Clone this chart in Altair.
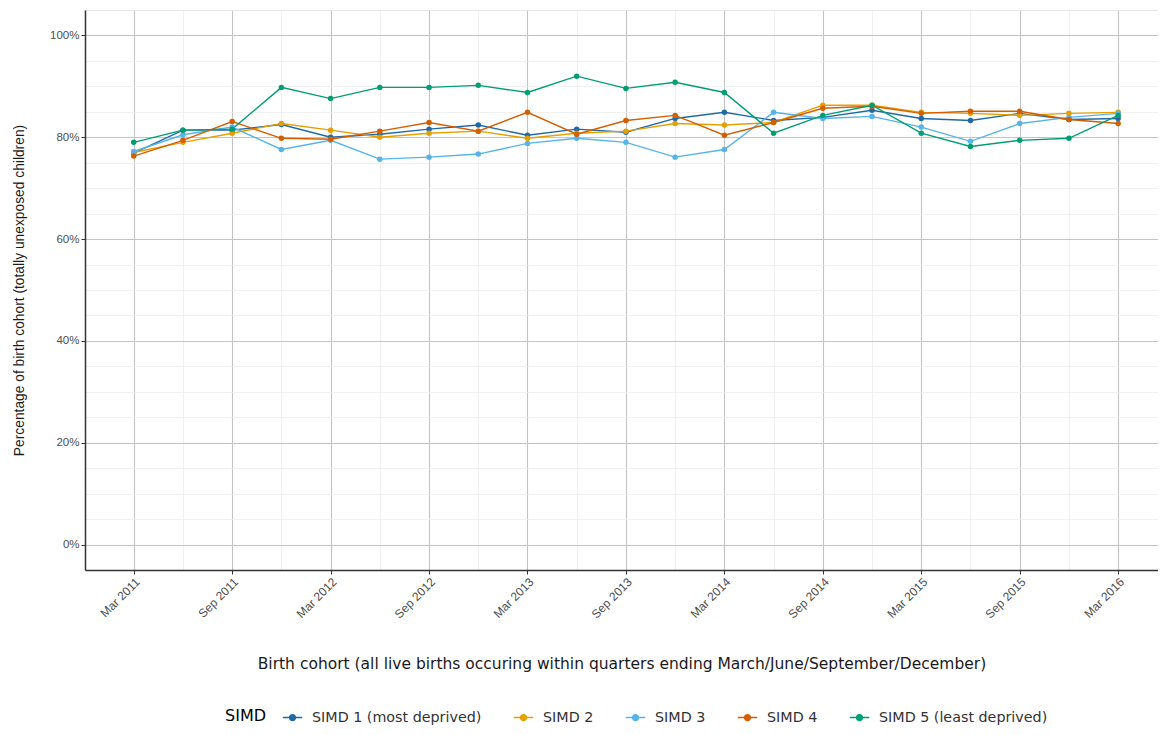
import altair as alt
import pandas as pd

# x index 0..20 = quarters Mar 2011 .. Mar 2016
quarters = list(range(21))
tick_labels = ["Mar 2011", "Sep 2011", "Mar 2012", "Sep 2012", "Mar 2013", "Sep 2013",
               "Mar 2014", "Sep 2014", "Mar 2015", "Sep 2015", "Mar 2016"]
series_names = ["SIMD 1 (most deprived)", "SIMD 2", "SIMD 3", "SIMD 4", "SIMD 5 (least deprived)"]
colors = ["#1F6AA5", "#E69F00", "#56B4E9", "#D55E00", "#009E73"]

s1 = [76.9, 81.4, 81.4, 82.5, 80.0, 80.6, 81.6, 82.4, 80.4, 81.6, 81.0, 83.7, 84.9, 83.3, 83.9, 85.3, 83.7, 83.3, 84.7, 83.5, 83.7]
s2 = [77.0, 79.0, 80.8, 82.7, 81.4, 80.0, 80.8, 81.2, 79.8, 80.8, 81.2, 82.7, 82.4, 82.9, 86.3, 86.3, 84.9, 84.7, 84.3, 84.7, 84.9]
s3 = [77.2, 80.5, 82.0, 77.6, 79.4, 75.7, 76.1, 76.7, 78.8, 79.8, 79.0, 76.1, 77.6, 84.9, 83.7, 84.1, 82.0, 79.2, 82.7, 83.9, 84.7]
s4 = [76.3, 79.4, 83.1, 79.8, 79.6, 81.2, 82.9, 81.2, 84.9, 80.6, 83.3, 84.3, 80.4, 82.9, 85.7, 86.1, 84.7, 85.1, 85.1, 83.5, 82.7]
s5 = [79.0, 81.4, 81.6, 89.8, 87.6, 89.8, 89.8, 90.2, 88.8, 92.0, 89.6, 90.8, 88.8, 80.8, 84.3, 86.3, 80.8, 78.2, 79.4, 79.8, 84.3]

rows = []
for name, vals in zip(series_names, [s1, s2, s3, s4, s5]):
    for q, v in zip(quarters, vals):
        rows.append({"q": q, "pct": v / 100.0, "SIMD": name})
df = pd.DataFrame(rows)

label_arr = "[" + ",".join("'%s'" % t for t in tick_labels) + "]"
major_x = list(range(0, 21, 2))
minor_x = list(range(-1, 22))
major_y = [0, 0.2, 0.4, 0.6, 0.8, 1.0]
minor_y = [round(-0.05 + 0.05 * i, 2) for i in range(23)]

xscale = alt.Scale(domain=[-0.99, 20.81], nice=False, zero=False)
yscale = alt.Scale(domain=[-0.05, 1.05], nice=False, zero=False)

color = alt.Color("SIMD:N", scale=alt.Scale(domain=series_names, range=colors),
                  legend=alt.Legend(title="SIMD", orient="none", direction="horizontal",
                                    legendX=140, legendY=697, titleOrient="left",
                                    titleFont="DejaVu Sans", labelFont="DejaVu Sans",
                                    titleFontSize=16, titleFontWeight="normal", titleColor="#000000",
                                    labelFontSize=14.3, labelColor="#333333", labelLimit=400,
                                    symbolType="M-1,0L1,0M-0.3,0A0.3,0.3,0,1,1,0.3,0A0.3,0.3,0,1,1,-0.3,0",
                                    symbolSize=380, symbolStrokeWidth=1.5,
                                    columnPadding=28, labelOffset=9, titlePadding=16))

minor = alt.Chart(df).mark_point(opacity=0).encode(
    x=alt.X("q:Q", scale=xscale,
            axis=alt.Axis(orient="bottom", values=minor_x, grid=True, gridColor="#ebebeb",
                          gridWidth=0.7, labels=False, ticks=False, domain=False, title=None)),
    y=alt.Y("pct:Q", scale=yscale,
            axis=alt.Axis(orient="left", values=minor_y, grid=True, gridColor="#ebebeb",
                          gridWidth=0.7, labels=False, ticks=False, domain=False, title=None)),
)

line = alt.Chart(df).mark_line(strokeWidth=1.4).encode(
    x=alt.X("q:Q", scale=xscale,
            axis=alt.Axis(orient="bottom", values=major_x, grid=True, gridColor="#c4c4c4", gridWidth=1.1,
                          labelExpr=label_arr + "[datum.value/2]", labelAngle=315,
                          labelAlign="right", labelBaseline="top", labelFontSize=12,
                          labelColor="#4d4d4d", labelFont="Liberation Sans",
                          tickColor="#333333", tickSize=4, domainColor="#333333", domainWidth=1.5,
                          title="Birth cohort (all live births occuring within quarters ending March/June/September/December)",
                          titleFontSize=15.5, titleFontWeight="normal", titleColor="#1a1a1a",
                          titleFont="DejaVu Sans", titlePadding=36)),
    y=alt.Y("pct:Q", scale=yscale,
            axis=alt.Axis(orient="left", values=major_y, format=".0%", grid=True, gridColor="#c4c4c4",
                          gridWidth=1.1, labelFontSize=11.5, labelColor="#4d4d4d", labelFont="Liberation Sans",
                          tickColor="#333333", tickSize=4, domainColor="#333333", domainWidth=1.5,
                          title="Percentage of birth cohort (totally unexposed children)",
                          titleFontSize=13.8, titleFontWeight="normal", titleColor="#1a1a1a",
                          titleFont="Liberation Sans", titlePadding=23)),
    color=color,
    detail="SIMD:N",
)

points = alt.Chart(df).mark_point(filled=True, size=30, opacity=1).encode(
    x=alt.X("q:Q", scale=xscale, axis=None),
    y=alt.Y("pct:Q", scale=yscale, axis=None),
    color=color,
)

chart = alt.layer(minor, line, points).resolve_axis(x="independent", y="independent").properties(
    width=1073, height=560,
    autosize=alt.AutoSizeParams(type="none"),
    padding={"left": 77, "top": 2, "right": 0, "bottom": 160},
).configure_view(stroke="#333333", strokeWidth=1).configure(font="Liberation Sans")

chart.save("out.html", embed_options={"renderer": "svg", "actions": False})
